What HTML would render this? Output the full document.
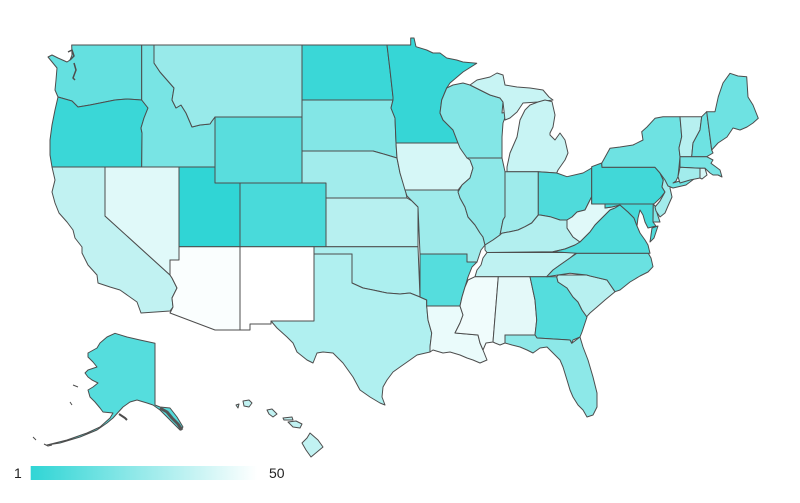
<!DOCTYPE html>
<html><head><meta charset="utf-8"><style>
html,body{margin:0;padding:0;background:#fff;}
svg{display:block}
</style></head><body>
<svg width="800" height="503" viewBox="0 0 800 503" xmlns="http://www.w3.org/2000/svg">
<defs><linearGradient id="lg" x1="0" x2="1" y1="0" y2="0"><stop offset="0" stop-color="#30d5d5"/><stop offset="0.5" stop-color="#98eaea"/><stop offset="1" stop-color="#ffffff"/></linearGradient></defs>
<g stroke="#4d4d4d" stroke-width="1" stroke-linejoin="round" fill="none">
<!-- WA -->
<polygon fill="#64e0e0" points="71.7,45 141.7,45 141.7,100 127,99 115,100 100,103 90,105 78,107 72,101 58,97 55,90 56,80 57,68 48,57 52,55 58,58 67,62 70,60 72,55"/>
<!-- OR -->
<polygon fill="#3ad7d7" points="58,97 72,101 78,107 90,105 100,103 115,100 127,99 141.7,100 148,108 144,118 141,128 142,133 141.7,167 52,167 50,155 50,140 52,125 55,110"/>
<!-- CA -->
<polygon fill="#c1f2f2" points="52,167 105,167 105,216 170,275 172,278 177,288 172,298 173,307 170,311 141,313 137,302 120,290 110,287 98,283 97,275 88,265 82,253 82,247 75,238 73,230 67,222 59,213 55,203 52,192 55,180"/>
<!-- NV -->
<polygon fill="#e0f9f9" points="105,167 179,167 179,260 170,260 170,275 105,216"/>
<!-- ID -->
<polygon fill="#78e4e4" points="141.7,45 154,45 154,63 160,72 167,80 174,88 172,100 176,108 181,105 186,113 192,127 200,125 210,124 212,121 215,117 215,167 141.7,167 142,133 141,128 144,118 148,108 141.7,100"/>
<!-- MT -->
<polygon fill="#98eaea" points="154,45 302,45 302,117 215,117 212,121 210,124 200,125 192,127 186,113 181,105 176,108 172,100 174,88 167,80 160,72 154,63"/>
<!-- WY -->
<polygon fill="#59dddd" points="215,117 302,117 302,183 215,183"/>
<!-- UT -->
<polygon fill="#30d5d5" points="179,167 215,167 215,183 240,183 240,246.7 179,246.7"/>
<!-- CO -->
<polygon fill="#49dada" points="240,183 326,183 326,246.7 240,246.7"/>
<!-- AZ -->
<polygon fill="#fafefe" points="179,246.7 240,246.7 240,330 215,330 170,313 173,307 172,298 177,288 172,278 170,275 170,260 179,260"/>
<!-- NM -->
<polygon fill="#ffffff" points="240,246.7 314,246.7 314,321 271,321 271,324 250,324 250,330 240,330"/>
<!-- ND -->
<polygon fill="#3ad7d7" points="302,45 387,45 390,70 393,97 393,100 302,100"/>
<!-- SD -->
<polygon fill="#83e6e6" points="302,100 393,100 391,108 395,118 396,143 397,158 387,155 373,151 302,151"/>
<!-- NE -->
<polygon fill="#a2ecec" points="302,151 373,151 387,155 397,158 400,173 405,188 407,198 326,198 326,183 302,183"/>
<!-- KS -->
<polygon fill="#b7f0f0" points="326,198 407,198 412,201 418,207 418,246.7 326,246.7"/>
<!-- OK -->
<polygon fill="#acefef" points="314,246.7 418,246.7 420,297 410,293 400,294 387,293 373,290 363,288 352,283 352,254 314,254"/>
<!-- TX -->
<polygon fill="#b0f0f0" points="314,254 352,254 352,283 363,288 373,290 387,293 400,294 410,293 420,297 426.7,300 426.7,306 428,320 431.7,333 430,347 430,352 417,355 410,360 400,367 393,372 387,380 383,387 382,397 385,405 380,403 370,397 360,390 353,377 343,363 333,353 323,352 317,353 313,363 307,360 297,352 293,343 287,337 277,328 271,321 314,321"/>
<!-- MN -->
<polygon fill="#36d6d6" points="387,45 410.7,45 410.7,38 414,38 416,46.7 426.7,50 433,53 440,53 446.7,58 456.7,60 463,62 476.7,63.3 463,72 450,83 446.7,88 441.7,100 440,113 443,120 453,130 458,143 396,143 395,118 391,108 393,100 393,97 390,70"/>
<!-- IA -->
<polygon fill="#d6f7f7" points="396,143 458,143 463,150 470,160 473,168 470,178 462,185 458,190 405,190 400,173 397,158"/>
<!-- MO -->
<polygon fill="#9eebeb" points="405,190 458,190 460,198 465,207 468,217 475,225 480,233 483,237 485,245 481,250 479,256 477,262 467,262 467,254 420,254 418,207 412,201 407,196"/>
<!-- AR -->
<polygon fill="#55dddd" points="420,254 467,254 467,262 477,262 472,267 468,277 465,287 462,297 460,306 426.7,306 426.7,300 420,297"/>
<!-- LA -->
<polygon fill="#eafbfb" points="426.7,306 460,306 463,315 460,323 455,333 478,335 480,343 483,350 487,360 480,363 473,360 467,358 460,355 450,352 443,353 433,350 430,352 430,347 431.7,333 428,320"/>
<!-- WI -->
<polygon fill="#83e6e6" points="446.7,88 453,85 463,83 470,85 490,95 500,98 503,102 502,113 507,112 503,123 502,137 502,158 467,158 460,148 458,143 453,130 443,120 440,113 441.7,100"/>
<!-- MI UP -->
<polygon fill="#c8f4f4" points="470,85 477,80 490,77 497,73 503,75 505,85 517,87 530,88 543,90 549,97 553,100 538,102 523,103 517,112 510,118 505,120 503,102 500,98 490,95"/>
<!-- MI LP -->
<polygon fill="#c8f4f4" points="507,171.7 538.3,171.7 556.7,173 558,170 565,160 568,153 565,140 560,133 555,140 550,135 550,133 553,127 555,115 552,101.7 545,100 538,102 530,105 525,110 520,120 517,137 510,153 507,167"/>
<!-- IL -->
<polygon fill="#8de8e8" points="467,158 502,158 505,171.7 505,216.7 503,220 500,235 493,240 485,245 483,237 480,233 475,225 468,217 465,207 460,198 458,192 462,185 470,178 473,168 470,160"/>
<!-- IN -->
<polygon fill="#9eebeb" points="505,171.7 538.3,171.7 538.3,215 531.7,223 525,226.7 518,230 510,231.7 501.7,233.3 500,235 503,220 505,216.7"/>
<!-- OH -->
<polygon fill="#4fdbdb" points="538.3,171.7 556.7,173 567,176.7 583,173 591.7,168 591.7,196.7 590,200 585,210 577,212 572,217 567,220 560,220 550,216.7 540,215 538.3,215"/>
<!-- KY -->
<polygon fill="#b2efef" points="485,245 493,240 500,235 501.7,233.3 510,231.7 518,230 525,226.7 531.7,223 538.3,215 540,215 550,216.7 560,220 567,220 567,228 573,237 580,242 575,245 565,249 553,251.7 487,252.5 485,250"/>
<!-- TN -->
<polygon fill="#bff2f2" points="487,252.5 576.7,252.5 570,258 560,265 553,270 546.7,276.7 475,276.7 477,270 481,265 483,258"/>
<!-- MS -->
<polygon fill="#f0fcfc" points="475,276.7 498.3,276.7 495,317 493,342 486,343 483,350 480,343 478,335 455,333 460,323 463,315 460,306 462,297 465,287 468,280"/>
<!-- AL -->
<polygon fill="#e4f9f9" points="498.3,276.7 530,276.7 535,300 536.7,320 535,335 505,335 505,343 500,345 495,343 493,342 495,317"/>
<!-- GA -->
<polygon fill="#55dddd" points="530,276.7 556.7,276.7 558,282 567,288 573,297 578,302 582,310 587,317 585,323 582,332 580,337 573,340 571.7,343.3 570,340 537,338 535,335 536.7,320 535,300"/>
<!-- FL -->
<polygon fill="#8de8e8" points="505,335 535,335 537,338 570,340 571.7,343.3 580,337 583,347 588,360 593,377 597,393 597,407 593,415 587,417 583,410 578,405 573,397 570,390 567,380 563,367 560,360 553,353 547,347 540,348 533,353 527,350 520,347 512,345 505,343"/>
<!-- SC -->
<polygon fill="#b7f0f0" points="558.3,275 586.7,275 607,280 615,291.7 605,300 597,307 590,313 586.7,316.7 582,310 578,302 573,297 567,288 558,282 556.7,276.7"/>
<!-- NC -->
<polygon fill="#6ae1e1" points="576.7,253.3 648.3,253.3 651,258 653,266.7 648,272 640,276 630,282 620,290 615,291.7 607,280 590,276 586.7,275 570,273.3 558,275 546.7,276.7 553,270 560,265 570,258"/>
<!-- WV -->
<polygon fill="#e0f9f9" points="591.7,196.7 591.7,204 605,204 605,208 612,207 620,205 615,208 610,210 605,215 600,220 595,225 590,232 585,237 580,242 573,237 567,228 567,220 572,217 577,212 585,210 590,200"/>
<!-- VA -->
<polygon fill="#4fdbdb" points="553,251.7 565,249 575,245 580,242 585,237 590,232 595,225 600,220 605,215 610,210 615,208 620,205 628,212 634,218 637,226 640,233 645,240 648,245 650,253.3 576.7,253.3"/>
<polygon fill="#4fdbdb" points="652,228 658,226 654,238 650,242"/>
<!-- MD -->
<polygon fill="#45d9d9" points="605,204 653.3,204 653,222 656,226 648,228 645,222 643,215 640,210 638,218 637,226 634,218 628,212 620,205 612,207 605,208"/>
<!-- DE -->
<polygon fill="#83e6e6" points="653.3,204 656,207 657,213 660,222 653,222"/>
<!-- PA -->
<polygon fill="#41d8d8" points="591.7,166.7 601.7,163 602,167.3 655,167.3 660,173 663.3,180 662,187 665,192 660,198.3 655,203 653.3,204 591.7,204"/>
<!-- NJ -->
<polygon fill="#a2ecec" points="660,173 666,178 672,183 670,188 672,197 668,206 665,213 660,217 656,211 655,207 660,201 665,192 662,187 663.3,180"/>
<!-- NY -->
<polygon fill="#6ee2e2" points="601.7,163.3 610,148.3 620,147 633,145 643,140 641.7,131.7 647,127 655,118.3 663,116.7 680,116.7 681.7,136.7 679,148 680,156.7 679,167 678,176.7 676,181 673,183 690,178 694,179 686,185 673,188 668,186 665,180 660,173 655,167.3 602,167.3"/>
<!-- VT -->
<polygon fill="#b7f0f0" points="680,116.7 701.7,116.7 700,130 693,143 691.7,156.7 680,156.7 679,148 681.7,136.7"/>
<!-- NH -->
<polygon fill="#6ee2e2" points="701.7,116.7 706.7,111.7 710,137 711.7,150 713,153 706.7,156.7 691.7,156.7 693,143 700,130"/>
<!-- ME -->
<polygon fill="#6ee2e2" points="706.7,111.7 715,111.7 718.3,96.7 723,83 730,73.3 738,76 746.7,76.7 748,97 753,105 758.3,118.3 753,123 747,127 740,130 733,128 727,137 718,143 711.7,150 710,137"/>
<!-- MA -->
<polygon fill="#78e4e4" points="680,156.7 706.7,156.7 713,160 711,163.3 716,167 720,170 722,177 718,175 713,175 710,173 705,168.3 700,168.3 680,167.3"/>
<!-- CT -->
<polygon fill="#a2ecec" points="680,167.3 700,168.3 700,178 690,180 680,183 678,176.7"/>
<!-- RI -->
<polygon fill="#d6f7f7" points="700,168.3 705,168.3 707,175 702,179 700,178"/>
<!-- AK -->
<polygon fill="#55dddd" points="115,333.3 127,337 140,340 155,343.3 155,405 160,407 170,408 177,417 183,427 180,430 173,423 167,417 160,410 153,405 147,403 137,400 130,402 123,407 113,418 107,423 97,430 80,437 60,443 47,445 67,440 87,433 100,427 110,418 113,413 103,412 100,408 95,402 90,397 88,390 93,387 98,383 92,380 88,377 85,373 88,370 97,367 93,362 88,357 88,353 97,348 100,343 107,337"/>
<polyline points="160,408 167,412 172,418 178,424 182,430" stroke-width="3" stroke="#555"/>
<polyline points="119,414 125,418 127,420" stroke-width="2"/>
<polyline points="33,437 36,440"/>
<polyline points="44,444 48,446 52,445"/>
<polyline points="73,385 78,387"/>
<polyline points="70,402 72,405"/>
<!-- HI -->
<g fill="#c1f2f2">
<polygon points="243,401 249,400 252,403 249,407 244,406"/>
<polygon points="236,405 239,404 238,408"/>
<polygon points="267,410 272,409 277,414 273,417 269,414"/>
<polygon points="283,418 292,417 293,420 284,420"/>
<polygon points="288,422 296,421 302,424 300,428 293,427"/>
<polygon points="310,433 318,440 323,447 317,452 311,457 306,450 302,443 307,438"/>
</g>
<!-- puget / islands -->
<polyline points="68,52 72,50 74,56 70,60" stroke-width="1.5"/>
<polyline points="74,63 76,70 73,78 75,80" stroke-width="1.5"/>
</g>
<rect x="30.7" y="466" width="226.6" height="14" fill="url(#lg)"/>
<text x="14" y="478" font-family="Liberation Sans, Arial, sans-serif" font-size="14" fill="#222">1</text>
<text x="269" y="478" font-family="Liberation Sans, Arial, sans-serif" font-size="14" fill="#222">50</text>
</svg>
</body></html>
